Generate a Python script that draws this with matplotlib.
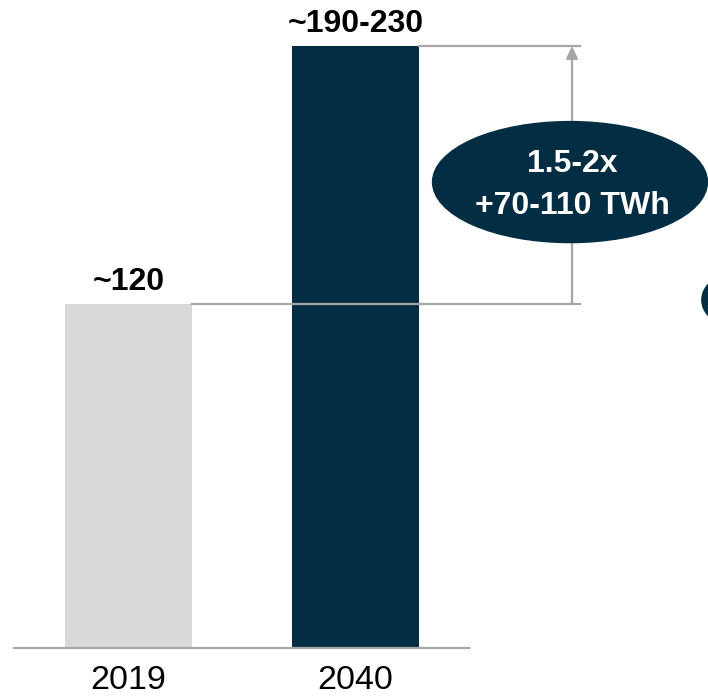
import matplotlib.pyplot as plt
from matplotlib.patches import Ellipse

plt.rcParams['font.family'] = ['Liberation Sans', 'DejaVu Sans']

years = ["2019", "2040"]
values = [120, 210]            # bar height (2040 drawn at midpoint of range)
value_labels = ["~120", "~190-230"]
bar_colors = ["#D9D9D9", "#022D42"]
bubble_lines = ["1.5-2x", "+70-110 TWh"]

navy = "#022D42"
grey = "#A6A6A6"

fig = plt.figure(figsize=(7.08, 6.96), dpi=100)
ax = fig.add_axes([0, 0, 1, 1])
ax.set_xlim(-0.566, 2.553)
ax.set_ylim(-16.74, 226.0)
ax.axis("off")

x = list(range(len(years)))
width = 0.56
bars = ax.bar(x, values, width=width, color=bar_colors, zorder=2)

# baseline
ax.plot([-0.504, 1.500], [0, 0], color=grey, lw=1.6, zorder=3)

# year labels and value labels
for xi, yr, v, lab in zip(x, years, values, value_labels):
    ax.text(xi, -11.5, yr, ha="center", va="center", fontsize=24.5, color="black")
    ax.annotate(lab, (xi, v), xytext=(0, 16), textcoords="offset points",
                ha="center", va="center", fontsize=23, fontweight="bold", color="black")

# reference lines from bar tops to the arrow (drawn over the taller bar)
x_arrow = 1.954
x_end = 1.989
for xi, v in zip(x, values):
    ax.plot([xi + width / 2, x_end], [v, v], color=grey, lw=1.6, zorder=3)

# arrow from 2019 level up to 2040 level
ax.annotate("", xy=(x_arrow, values[1]), xytext=(x_arrow, values[0]),
            arrowprops=dict(arrowstyle="-|>,head_length=0.75,head_width=0.35",
                            color=grey, lw=1.6, shrinkA=0, shrinkB=0), zorder=1)

# bubble with the growth figures
ex, ey = 1.945, 162.5
ax.add_patch(Ellipse((ex, ey), 1.211, 42.2, color=navy, zorder=4))
ax.text(ex + 0.01, ey + 6.2, bubble_lines[0], ha="center", va="center",
        fontsize=23, fontweight="bold", color="white", zorder=5)
ax.text(ex + 0.01, ey - 8.5, bubble_lines[1], ha="center", va="center",
        fontsize=23, fontweight="bold", color="white", zorder=5)

# partially visible marker at the right edge
ax.add_patch(Ellipse((2.623, 121.4), 0.194, 15.35, color=navy, zorder=4))

fig.savefig("out.png", dpi=100)
